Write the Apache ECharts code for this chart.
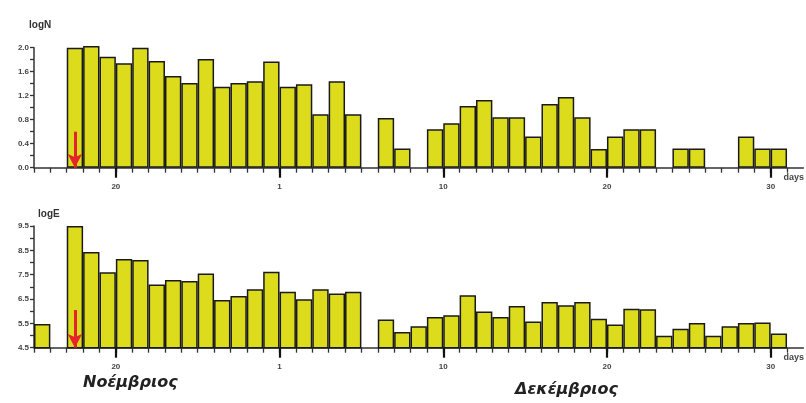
<!DOCTYPE html>
<html>
<head>
<meta charset="utf-8">
<script src="https://cdn.jsdelivr.net/npm/echarts@6/dist/echarts.min.js"></script>
<style>html,body{margin:0;padding:0;background:#fff}#c{width:806px;height:403px}</style>
</head>
<body>
<div id="c"></div>
<script>
// day units along the axis (each bar spans one unit)
var dayUnits = [15,16,17,18,19,20,21,22,23,24,25,26,27,28,29,30,31,32,33,34,35,36,37,38,39,40,41,42,43,44,45,46,47,48,49,50,51,52,53,54,55,56,57,58,59,60,61];
var logN = [null,null,2.0,2.03,1.85,1.74,2.0,1.78,1.53,1.41,1.81,1.35,1.41,1.44,1.77,1.35,1.39,0.89,1.44,0.89,null,0.83,0.32,null,0.64,0.74,1.03,1.13,0.84,0.84,0.52,1.06,1.18,0.84,0.31,0.52,0.64,0.64,null,0.32,0.32,null,null,0.52,0.32,0.32,null];
var logE = [5.47,null,9.5,8.43,7.6,8.14,8.1,7.1,7.28,7.24,7.55,6.46,6.62,6.9,7.62,6.8,6.49,6.9,6.73,6.8,null,5.66,5.15,5.38,5.76,5.83,6.65,5.99,5.76,6.21,5.58,6.38,6.24,6.38,5.69,5.45,6.1,6.08,4.99,5.28,5.51,4.99,5.38,5.51,5.54,5.08,null];
var minorTickDays = [15,16,17,18,19,20,21,22,23,24,25,26,27,28,29,30,31,32,33,34,35,36,37,38,39,40,41,42,43,44,45,46,47,48,49,50,51,52,53,54,55,56,57,58,59,60,61];
var majorTickDays = [20,30,40,50,60];
var majorTickLabels = ['20','1','10','20','30'];
var topYLabels = [0,0.4,0.8,1.2,1.6,2.0];
var topYTicks = [0,0.2,0.4,0.6,0.8,1.0,1.2,1.4,1.6,1.8,2.0];
var botYLabels = [4.5,5.5,6.5,7.5,8.5,9.5];
var botYTicks = [4.5,5,5.5,6,6.5,7,7.5,8,8.5,9,9.5];
var arrowDay = 17;
var topArrow = [0.6,0.0];
var botArrow = [6.05,4.5];
var monthLabels = ['Νοέμβριος','Δεκέμβριος'];

var chart = echarts.init(document.getElementById('c'));
var AX = '#333';
var grids = [
  {left:34, top:47.7, width:769.4, height:120},
  {left:34, top:226, width:769.4, height:121.7}
];
function xAxes(g){
  return [
    {type:'category', gridIndex:g, position:'bottom', data:dayUnits.map(String), boundaryGap:true,
     axisLine:{lineStyle:{color:AX,width:1.5}}, axisTick:{show:false}, axisLabel:{show:false}, splitLine:{show:false}},
    {type:'value', gridIndex:g, position:'bottom', min:15, max:62, axisLine:{show:false}, splitLine:{show:false},
     axisTick:{show:true, customValues:minorTickDays, length:5, lineStyle:{color:AX,width:1.3}},
     axisLabel:{show:false}},
    {type:'value', gridIndex:g, position:'bottom', min:15, max:62, axisLine:{show:false}, splitLine:{show:false},
     axisTick:{show:true, customValues:majorTickDays, length:10, lineStyle:{color:'#111',width:2.2}},
     axisLabel:{show:true, customValues:majorTickDays, margin:15, fontSize:8, fontWeight:'bold', color:'#444', fontFamily:'Liberation Sans',
       formatter:function(v){var i=majorTickDays.indexOf(Math.round(v));return i>=0?majorTickLabels[i]:'';}},
     name:'days', nameLocation:'end', nameGap:-20,
     nameTextStyle:{align:'left', verticalAlign:'top', padding:[5,0,0,0], fontSize:9, fontWeight:'bold', color:'#444', fontFamily:'Liberation Sans'}}
  ];
}
function yAxis(g, mn, mx, labs, ticks){
  return {type:'value', gridIndex:g, position:'left', min:mn, max:mx,
    axisLine:{show:true, lineStyle:{color:AX,width:1.5}}, splitLine:{show:false},
    axisTick:{show:true, customValues:ticks, length:4, lineStyle:{color:AX,width:1.3}},
    axisLabel:{show:true, customValues:labs, margin:5, fontSize:8, fontWeight:'bold', color:'#444', fontFamily:'Liberation Sans',
      formatter:function(v){return v.toFixed(1);}}};
}
var barStyle = {color:'#dcdc1c', borderColor:'#1a1a1a', borderWidth:1.5};
function arrowML(vals){
  return {symbol:['none','arrow'], symbolSize:[11,14], silent:true, animation:false,
    lineStyle:{color:'#e3242b', width:3, type:'solid'}, label:{show:false},
    data:[[{coord:[String(arrowDay), vals[0]]},{coord:[String(arrowDay), vals[1]]}]]};
}
chart.setOption({
  animation:false,
  backgroundColor:'#fff',
  title:[
    {text:'logN', left:24, top:15, textStyle:{fontSize:10, fontWeight:'bold', color:'#333', fontFamily:'Liberation Sans'}},
    {text:'logE', left:33, top:204, textStyle:{fontSize:10, fontWeight:'bold', color:'#333', fontFamily:'Liberation Sans'}}
  ],
  grid:grids,
  xAxis:xAxes(0).concat(xAxes(1)),
  yAxis:[yAxis(0,0,2.0,topYLabels,topYTicks), yAxis(1,4.5,9.5,botYLabels,botYTicks)],
  graphic:[
    {type:'text', left:83, top:375, style:{text:monthLabels[0], font:'italic 600 16px "DejaVu Sans"', fill:'#222'}},
    {type:'text', left:515, top:382, style:{text:monthLabels[1], font:'italic 600 16px "DejaVu Sans"', fill:'#222'}}
  ],
  series:[
    {type:'bar', xAxisIndex:0, yAxisIndex:0, data:logN, barCategoryGap:'0%', itemStyle:barStyle, clip:false,
     markLine:arrowML(topArrow)},
    {type:'bar', xAxisIndex:3, yAxisIndex:1, data:logE, barCategoryGap:'0%', itemStyle:barStyle, clip:true,
     markLine:arrowML(botArrow)}
  ]
});
</script>
</body>
</html>
